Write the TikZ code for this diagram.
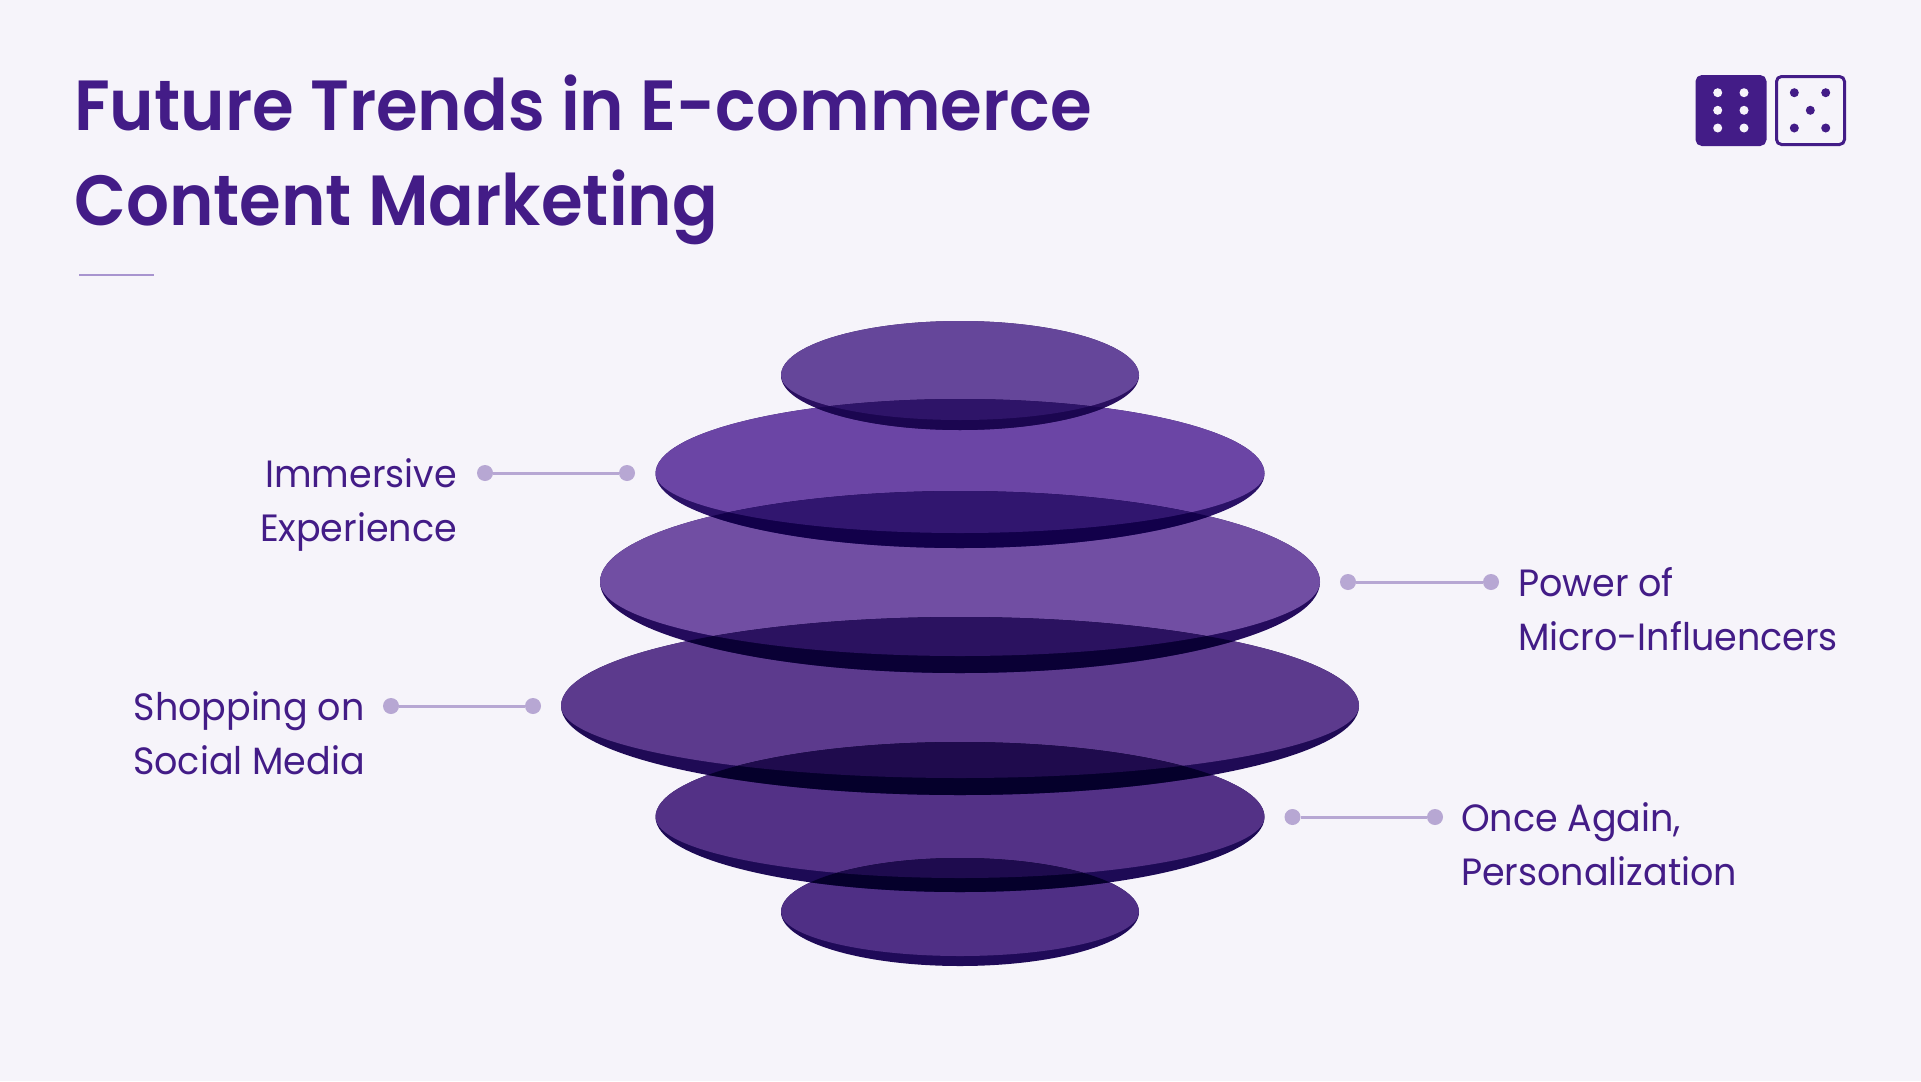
\documentclass[tikz,border=0pt]{standalone}
\usepackage{fontspec}
\setmainfont[FakeStretch=0.96]{Poppins}
\newfontfamily\headfont[FakeStretch=0.95]{Poppins SemiBold}
\usepackage{xcolor}
\usetikzlibrary{positioning}
\definecolor{paper}{HTML}{F6F4FA}
\definecolor{ink}{HTML}{431C87}
\definecolor{leader}{HTML}{B7A7D3}
\definecolor{rulecol}{HTML}{A894CF}
\tikzstyle{titletext} = [anchor=base west, inner sep=0pt, text=ink, font=\fontsize{71}{95}\selectfont\headfont]
\tikzstyle{labeltext} = [inner sep=0pt, text=ink, font=\fontsize{38}{54}\selectfont]
\tikzstyle{leaderdot} = [circle, fill=leader, minimum size=16pt, inner sep=0pt]
\tikzstyle{leaderline} = [line width=3pt, draw=leader]
\tikzstyle{iconbox} = [rectangle, rounded corners=5pt, minimum size=68pt, inner sep=0pt, line width=3pt, draw=ink]
\tikzstyle{pip} = [circle, minimum size=9pt, inner sep=0pt]
% one disc: centre y, x radius, outer y radius, lower y radius of the face, face colour, side colour
\newcommand{\disc}[6]{
  \definecolor{facecol}{HTML}{#5}
  \definecolor{sidecol}{HTML}{#6}
  \fill [sidecol] (960,#1) ellipse [x radius=#2, y radius=#3];
  \fill [facecol] (960-#2,#1) arc [start angle=180, end angle=360, x radius=#2, y radius=#3]
    arc [start angle=0, end angle=180, x radius=#2, y radius=#4] -- cycle;
}
% part of a disc lying over the next one (last three arguments)
\newcommand{\discover}[9]{
  \begin{scope}
    \clip (960,#7) ellipse [x radius=#8, y radius=#9];
    \disc{#1}{#2}{#3}{#4}{#5}{#6}
  \end{scope}
}
\begin{document}
\begin{tikzpicture}[x=1pt, y=-1pt]
    \fill [paper] (0,0) rectangle (1921,1081);
    \useasboundingbox (0,0) rectangle (1921,1081);

    % title
    \node (titleA) [titletext] at (74,130) {Future Trends in E-commerce};
    \node (titleB) [titletext] at (74,225) {Content Marketing};
    \draw [line width=2.5pt, draw=rulecol] (79,275) -- (154,275);

    % icons
    \node (iconA) [iconbox, fill=ink] at (1731,110.5) {};
    \node (iconB) [iconbox] at (1810.5,110.5) {};
    \foreach \px in {1717.7,1744}
      \foreach \py in {92.7,110.3,128}
        \node [pip, fill=paper] at (\px,\py) {};
    \foreach \px/\py in {1794.3/92.7,1825.7/92.7,1810.3/110.3,1794.3/128,1825.7/128}
      \node [pip, fill=ink] at (\px,\py) {};

    % discs
    \disc{912}{179}{54}{44}{4F2F85}{1F0A58}
    \disc{817}{304.5}{75}{61}{533186}{1D0A55}
    \disc{706}{399}{89}{72}{5C3A8D}{1F0A55}
    \disc{582}{360}{91}{74}{714EA3}{240B5C}
    \disc{473.5}{304.5}{74.5}{59.5}{6B45A5}{2A1166}
    \disc{375.5}{179}{54.5}{44.5}{65469A}{2A0F60}
    \discover{375.5}{179}{54.5}{44.5}{2E1468}{1B0650}{473.5}{304.5}{74.5}
    \discover{473.5}{304.5}{74.5}{59.5}{31166F}{12004A}{582}{360}{91}
    \discover{582}{360}{91}{74}{2B1260}{0A0035}{706}{399}{89}
    \discover{706}{399}{89}{72}{1F0B4D}{05002B}{817}{304.5}{75}
    \discover{817}{304.5}{75}{61}{1E0B4E}{05002B}{912}{179}{54}

    % labels
    \node (immersiveL) [leaderdot] at (485,473) {};
    \node (immersiveR) [leaderdot] at (627,473) {};
    \node (microL) [leaderdot] at (1348,582) {};
    \node (microR) [leaderdot] at (1491,582) {};
    \node (socialL) [leaderdot] at (391,706) {};
    \node (socialR) [leaderdot] at (533,706) {};
    \node (onceL) [leaderdot] at (1292.5,817) {};
    \node (onceR) [leaderdot] at (1435,817) {};
    \draw [leaderline] (immersiveL) -- (immersiveR);
    \draw [leaderline] (microL) -- (microR);
    \draw [leaderline] (socialL) -- (socialR);
    \draw [leaderline] (onceL) -- (onceR);

    \node (immersive) [labeltext, anchor=north east, align=right] at (457,458) {Immersive\\Experience};
    \node (micro) [labeltext, anchor=north west, align=left] at (1518,567) {Power of\\Micro-Influencers};
    \node (social) [labeltext, anchor=north east, align=center] at (365,691) {Shopping on\\Social Media};
    \node (once) [labeltext, anchor=north west, align=left] at (1461,802) {Once Again,\\Personalization};
\end{tikzpicture}
\end{document}
